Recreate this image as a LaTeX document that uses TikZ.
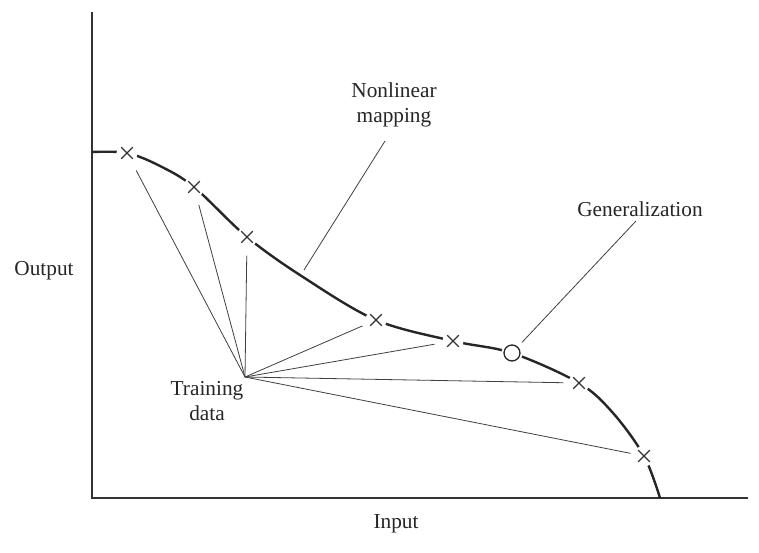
\documentclass[tikz,border=0pt]{standalone}
\usepackage{fontspec}
\setmainfont{Liberation Serif}
\usetikzlibrary{shapes.misc}
\begin{document}
\begin{tikzpicture}[x=1pt,y=-1pt,
  lbl/.style={font=\fontsize{21.3}{25.5}\selectfont, inner sep=0pt, text=black!85, align=center},
  axisline/.style={line width=1.6pt, black!80},
  curveline/.style={line width=2.4pt, black!85},
  leader/.style={line width=0.8pt, black!75},
  gapc/.style={circle, fill=white, minimum size=21pt, inner sep=0pt},
  xm/.style={cross out, draw=black!80, line width=1.1pt, minimum size=10.5pt, inner sep=0pt},
  om/.style={circle, draw=black!85, line width=1.3pt, minimum size=16pt, inner sep=0pt}]
\useasboundingbox (0,0) rectangle (759,552);
\fill[white] (0,0) rectangle (759,552);
% axes
\coordinate (o) at (92,498);
\coordinate (ytop) at (92,12);
\coordinate (xend) at (748,498);
\draw[axisline] (ytop) -- (o) -- (xend);
% curve
\draw[curveline] plot[smooth, tension=0.55] coordinates
 {(92,152) (127,153) (160,166) (194,187) (247,237) (303,277) (376,320) (453,341) (512,353) (579,383) (613,413) (644,456) (660,498)};
% markers (gaps)
\node[gapc] (m1) at (127,153) {};
\node[gapc] (m2) at (194,187) {};
\node[gapc] (m3) at (247,237) {};
\node[gapc] (m4) at (376,320) {};
\node[gapc] (m5) at (453,341) {};
\node[gapc] (g) at (512,353) {};
\node[gapc] (m6) at (579,383) {};
\node[gapc] (m7) at (644,456) {};
\node[xm] (x1) at (m1) {};
\node[xm] (x2) at (m2) {};
\node[xm] (x3) at (m3) {};
\node[xm] (x4) at (m4) {};
\node[xm] (x5) at (m5) {};
\node[om] (gc) at (g) {};
\node[xm] (x6) at (m6) {};
\node[xm] (x7) at (m7) {};
% training data hub
\coordinate (hub) at (245,377);
\foreach \m/\s in {m1/9, m2/8, m3/8, m4/4, m5/8, m6/5, m7/3}
  \draw[leader, shorten >=\s pt] (hub) -- (\m);
% labels
\node[lbl] (train) at (207,401) {Training\\data};
\node[lbl] (nonlin) at (394,105) {Nonlinear\\mapping};
\node[lbl] (gen) at (640,209) {Generalization};
\node[lbl] (out) at (44,271) {Output};
\node[lbl] (in) at (396,524) {Input};
\coordinate (nlend) at (304,270);
\draw[leader] (385,141) -- (nlend);
\draw[leader, shorten <=6pt, shorten >=6pt] (gen.south) -- (gc);
\end{tikzpicture}
\end{document}
